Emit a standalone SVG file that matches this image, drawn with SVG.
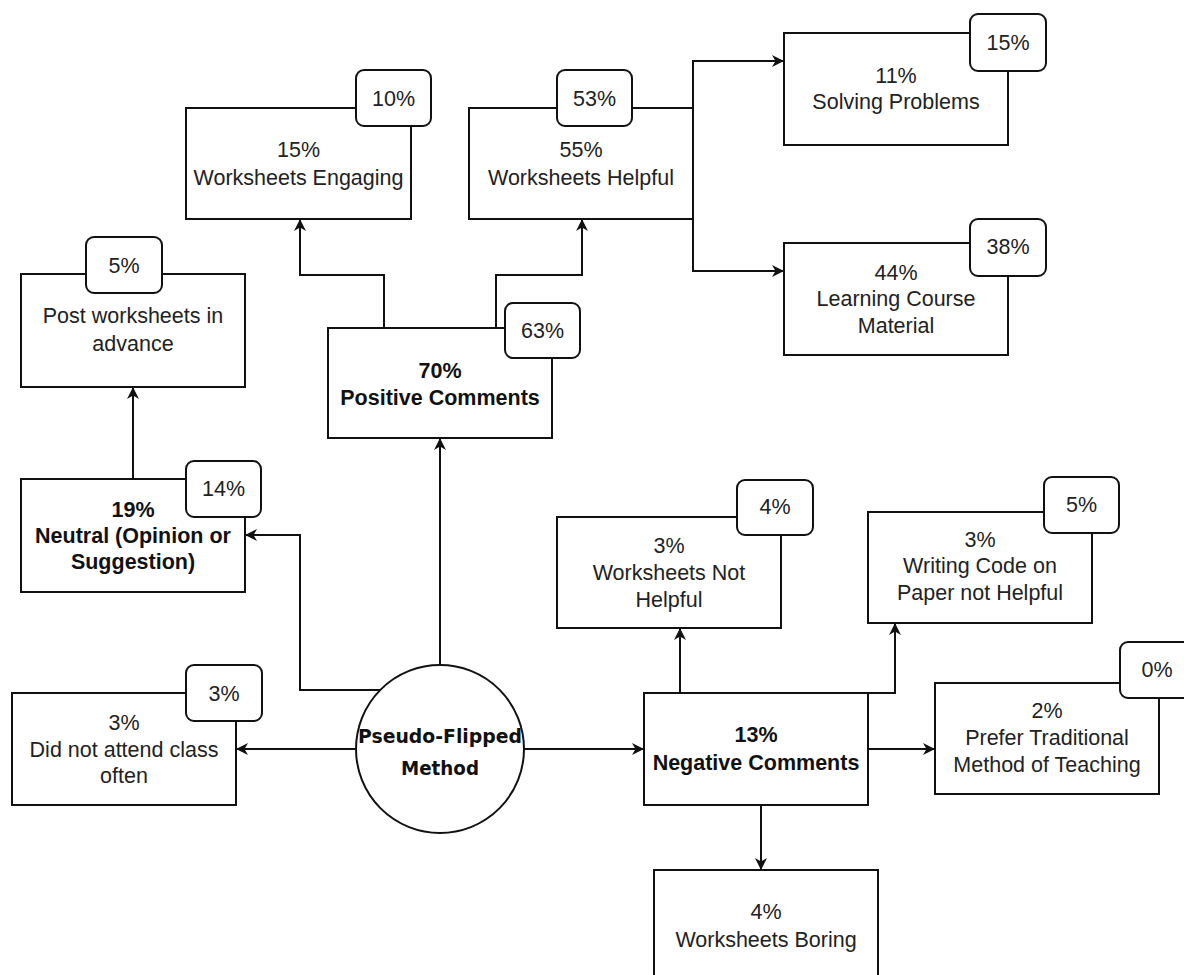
<svg xmlns="http://www.w3.org/2000/svg" width="1184" height="975" viewBox="0 0 1184 975">
<style>
.box{fill:#fff;stroke:#111;stroke-width:2}
.badge{fill:#fff;stroke:#111;stroke-width:2}
.t{font-family:"Liberation Sans",Arial,Helvetica,sans-serif;font-size:21.5px;fill:#222;text-anchor:middle}
.b{font-weight:bold;fill:#111}
.c{font-family:"DejaVu Sans",sans-serif;font-size:20px;font-weight:bold;fill:#111;text-anchor:middle}
.ln{fill:none;stroke:#111;stroke-width:2}
</style>
<defs>
<marker id="arr" markerWidth="14" markerHeight="12" refX="12" refY="6" orient="auto" markerUnits="userSpaceOnUse">
<path d="M0,0 L12,6 L0,12 L3.5,6 Z" fill="#111"/>
</marker>
</defs>
<rect width="1184" height="975" fill="#fff"/>
<g id="connectors">
<path class="ln" d="M440,665 L440,438" marker-end="url(#arr)"/>
<path class="ln" d="M380,690 L300,690 L300,535 L245,535" marker-end="url(#arr)"/>
<path class="ln" d="M355,749 L236,749" marker-end="url(#arr)"/>
<path class="ln" d="M524,749 L644,749" marker-end="url(#arr)"/>
<path class="ln" d="M133,479 L133,387" marker-end="url(#arr)"/>
<path class="ln" d="M384,328 L384,275 L300,275 L300,219" marker-end="url(#arr)"/>
<path class="ln" d="M496,328 L496,275 L582,275 L582,219" marker-end="url(#arr)"/>
<path class="ln" d="M693,163 L693,61 L784,61" marker-end="url(#arr)"/>
<path class="ln" d="M693,163 L693,271 L784,271" marker-end="url(#arr)"/>
<path class="ln" d="M680,693 L680,628" marker-end="url(#arr)"/>
<path class="ln" d="M868,693 L895,693 L895,623" marker-end="url(#arr)"/>
<path class="ln" d="M868,749 L935,749" marker-end="url(#arr)"/>
<path class="ln" d="M761,805 L761,870" marker-end="url(#arr)"/>
</g>
<g id="center">
<circle cx="440" cy="749" r="84" class="box"/>
<text class="c" x="440" y="743" textLength="164" lengthAdjust="spacingAndGlyphs">Pseudo-Flipped</text>
<text class="c" x="440" y="775" textLength="78" lengthAdjust="spacingAndGlyphs">Method</text>
</g>
<g id="positive">
<rect class="box" x="328" y="328" width="224" height="110"/>
<text class="t b" x="440" y="378">70%</text>
<text class="t b" x="440" y="405">Positive Comments</text>
<rect class="badge" x="505" y="303" width="75" height="55" rx="8"/>
<text class="t" x="542.5" y="338">63%</text>
</g>
<g id="engaging">
<rect class="box" x="186" y="108" width="225" height="111"/>
<text class="t" x="298.5" y="157">15%</text>
<text class="t" x="298.5" y="185">Worksheets Engaging</text>
<rect class="badge" x="356" y="70" width="75" height="56" rx="8"/>
<text class="t" x="393.5" y="106">10%</text>
</g>
<g id="helpful">
<rect class="box" x="469" y="108" width="224" height="111"/>
<text class="t" x="581" y="157">55%</text>
<text class="t" x="581" y="185">Worksheets Helpful</text>
<rect class="badge" x="557" y="70" width="75" height="56" rx="8"/>
<text class="t" x="594.5" y="106">53%</text>
</g>
<g id="solving">
<rect class="box" x="784" y="33" width="224" height="112"/>
<text class="t" x="896" y="83">11%</text>
<text class="t" x="896" y="109">Solving Problems</text>
<rect class="badge" x="970" y="14" width="76" height="57" rx="8"/>
<text class="t" x="1008" y="50">15%</text>
</g>
<g id="learning">
<rect class="box" x="784" y="243" width="224" height="112"/>
<text class="t" x="896" y="280">44%</text>
<text class="t" x="896" y="306">Learning Course</text>
<text class="t" x="896" y="333">Material</text>
<rect class="badge" x="970" y="219" width="76" height="57" rx="8"/>
<text class="t" x="1008" y="254">38%</text>
</g>
<g id="post">
<rect class="box" x="21" y="274" width="224" height="113"/>
<text class="t" x="133" y="323">Post worksheets in</text>
<text class="t" x="133" y="351">advance</text>
<rect class="badge" x="86" y="237" width="76" height="56" rx="8"/>
<text class="t" x="124" y="273">5%</text>
</g>
<g id="neutral">
<rect class="box" x="21" y="479" width="224" height="113"/>
<text class="t b" x="133" y="517">19%</text>
<text class="t b" x="133" y="543">Neutral (Opinion or</text>
<text class="t b" x="133" y="569">Suggestion)</text>
<rect class="badge" x="186" y="461" width="75" height="56" rx="8"/>
<text class="t" x="223.5" y="496">14%</text>
</g>
<g id="notattend">
<rect class="box" x="12" y="693" width="224" height="112"/>
<text class="t" x="124" y="730">3%</text>
<text class="t" x="124" y="757">Did not attend class</text>
<text class="t" x="124" y="783">often</text>
<rect class="badge" x="186" y="665" width="76" height="56" rx="8"/>
<text class="t" x="224" y="701">3%</text>
</g>
<g id="negative">
<rect class="box" x="644" y="693" width="224" height="112"/>
<text class="t b" x="756" y="742">13%</text>
<text class="t b" x="756" y="770">Negative Comments</text>
</g>
<g id="nothelpful">
<rect class="box" x="557" y="517" width="224" height="111"/>
<text class="t" x="669" y="553">3%</text>
<text class="t" x="669" y="580">Worksheets Not</text>
<text class="t" x="669" y="607">Helpful</text>
<rect class="badge" x="737" y="480" width="76" height="55" rx="8"/>
<text class="t" x="775" y="514">4%</text>
</g>
<g id="writing">
<rect class="box" x="868" y="512" width="224" height="111"/>
<text class="t" x="980" y="547">3%</text>
<text class="t" x="980" y="573">Writing Code on</text>
<text class="t" x="980" y="600">Paper not Helpful</text>
<rect class="badge" x="1044" y="477" width="75" height="56" rx="8"/>
<text class="t" x="1081.5" y="512">5%</text>
</g>
<g id="prefer">
<rect class="box" x="935" y="683" width="224" height="111"/>
<text class="t" x="1047" y="718">2%</text>
<text class="t" x="1047" y="745">Prefer Traditional</text>
<text class="t" x="1047" y="772">Method of Teaching</text>
<rect class="badge" x="1120" y="642" width="76" height="56" rx="8"/>
<text class="t" x="1157" y="677">0%</text>
</g>
<g id="boring">
<rect class="box" x="654" y="870" width="224" height="112"/>
<text class="t" x="766" y="919">4%</text>
<text class="t" x="766" y="947">Worksheets Boring</text>
</g>
</svg>
